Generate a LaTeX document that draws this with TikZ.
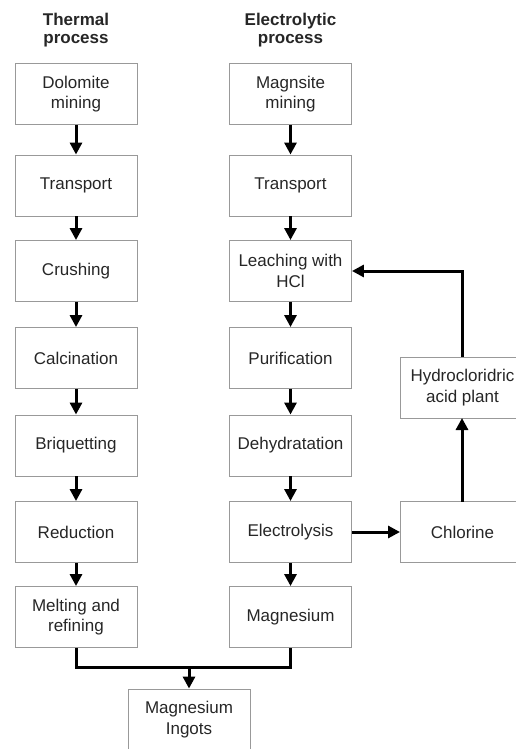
\documentclass[tikz,border=0pt]{standalone}
\usepackage{fontspec}
\setmainfont{Liberation Sans}
\usetikzlibrary{arrows.meta}

\newcommand{\sidetext}[1]{\parbox{124pt}{\centering #1}\hspace*{16pt}}

\begin{document}
\begin{tikzpicture}[x=1pt,y=1pt,yscale=-1,xscale=1,
  box/.style={draw=black!40,line width=0.9pt,minimum width=122,minimum height=61,
    inner sep=0pt,align=center,text=black!85,font=\fontsize{17}{20.5}\selectfont},
  sidebox/.style={draw=black!40,line width=0.9pt,minimum height=61,anchor=west,
    inner sep=0pt,text=black!85,font=\fontsize{17}{20.5}\selectfont},
  title/.style={align=center,inner sep=0pt,text=black!85,font=\fontsize{17}{18.5}\selectfont\bfseries},
  flow/.style={line width=3pt,-{Triangle[width=12pt,length=12pt]}},
  link/.style={line width=3pt}]
  \useasboundingbox (0,0) rectangle (515,749);

  % Titles
  \node[title] (ttherm) at (76,30) {Thermal\\process};
  \node[title] (telec) at (290.5,30) {Electrolytic\\process};

  % Thermal process
  \node[box] (dolo) at (76,94) {Dolomite\\mining};
  \node[box] (trl) at (76,185.5) {Transport};
  \node[box] (crush) at (76,271) {Crushing};
  \node[box] (calc) at (76,358) {Calcination};
  \node[box] (briq) at (76,445.5) {Briquetting};
  \node[box] (redu) at (76,532) {Reduction};
  \node[box] (melt) at (76,617) {Melting and\\refining};

  % Electrolytic process
  \node[box] (magn) at (290.5,94) {Magnsite\\mining};
  \node[box] (trr) at (290.5,185.5) {Transport};
  \node[box] (leach) at (290.5,271) {Leaching with\\HCl};
  \node[box] (puri) at (290.5,358) {Purification};
  \node[box] (dehy) at (290.5,445.5) {Dehydratation};
  \node[box] (elec) at (290.5,532) {Electrolysis};
  \node[box] (mg) at (290.5,617) {Magnesium};

  % Side loop (boxes run past the right edge)
  \node[sidebox] (hcl) at (400,387.5) {\sidetext{Hydrocloridric\\acid plant}};
  \node[sidebox] (chl) at (400,532) {\sidetext{Chlorine}};
  \coordinate (hcltop) at (462,357);
  \coordinate (hclbot) at (462,418);
  \coordinate (chltop) at (462,501.5);

  % Output
  \node[box] (ingot) at (189,719.5) {Magnesium\\Ingots};

  % Arrows
  \foreach \a/\b in {dolo/trl,trl/crush,crush/calc,calc/briq,briq/redu,redu/melt,
    magn/trr,trr/leach,leach/puri,puri/dehy,dehy/elec,elec/mg}
    \draw[flow] (\a.south) -- (\b.north);
  \draw[flow] (elec.east) -- (chl.west);
  \draw[flow] (chltop) -- (hclbot);
  \draw[flow] (hcltop) |- (leach.east);

  % Merge
  \coordinate (join) at (189,668);
  \draw[link] (melt.south) -- ++(0,20) -| (mg.south);
  \draw[flow] (join) -- (ingot.north);

\end{tikzpicture}
\end{document}
